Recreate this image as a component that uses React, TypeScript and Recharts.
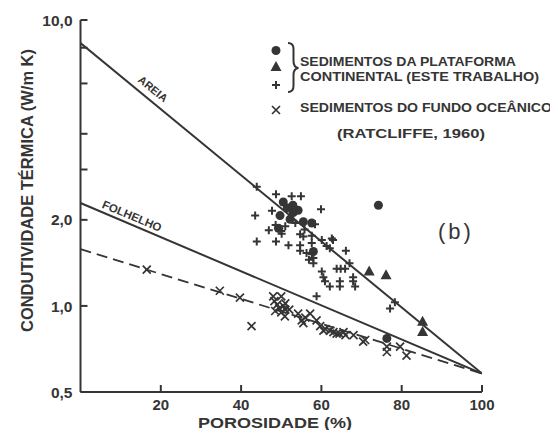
import { ComposedChart, Line, Scatter, XAxis, YAxis } from "recharts";

const INK = "#353535";
const FONT = "'Liberation Sans', Arial, sans-serif";

// eixo y (log) e eixo x
const Y_TICKS = [0.5, 1, 2, 3, 4, 5, 6, 7, 8, 9, 10];
const Y_LABELS: Record<string, string> = { "0.5": "0,5", "1": "1,0", "2": "2,0", "10": "10,0" };
const X_TICKS = [20, 40, 60, 80, 100];

// retas de ajuste (porosidade %, condutividade W/m K)
const areiaLine = [
  { x: 0, y: 8.3 },
  { x: 100, y: 0.58 },
];
const folhelhoLine = [
  { x: 0, y: 2.29 },
  { x: 100, y: 0.58 },
];
const oceanLine = [
  { x: 0, y: 1.58 },
  { x: 100, y: 0.58 },
];

// sedimentos da plataforma continental
const platePlus = [
  [43.9, 2.61], [48.7, 2.46], [52.6, 2.42], [54.9, 2.42], [59.9, 2.18], [43.5, 2.07],
  [47.7, 2.15], [58.4, 1.93], [48.6, 1.92], [46.9, 1.84], [50.1, 1.79], [54.7, 1.78],
  [57.6, 1.76], [43.9, 1.68], [48.7, 1.68], [51.8, 1.63], [54.7, 1.63], [57.6, 1.66],
  [54.7, 1.56], [57.6, 1.52], [56.9, 1.45], [61.3, 1.62], [62.1, 1.59], [62.9, 1.7],
  [60.1, 1.7], [62.6, 1.72], [66.1, 1.56], [55.5, 1.75], [56.3, 1.53], [58.0, 1.47],
  [58.0, 1.41], [63.8, 1.35], [64.8, 1.35], [65.9, 1.35], [67.0, 1.41], [60.1, 1.32],
  [60.5, 1.26], [60.9, 1.22], [62.1, 1.17], [64.6, 1.22], [64.6, 1.17], [67.9, 1.26],
  [67.9, 1.22], [68.4, 1.17], [58.8, 1.08], [78.3, 1.03], [77.1, 0.98], [49.5, 1.86],
  [51.0, 1.9], [50.0, 1.83], [53.5, 1.95], [55.8, 1.85],
];
const plateCircle = [
  [50.5, 2.31], [52.9, 2.25], [54.2, 2.16], [49.7, 2.07], [52.2, 2.01], [55.5, 1.97],
  [57.6, 1.95], [49.3, 1.87], [58.0, 1.55], [74.2, 2.25], [76.3, 0.77], [53.0, 2.12],
  [51.5, 2.2],
];
const plateTriangle = [
  [71.9, 1.32], [76.1, 1.28], [85.2, 0.88], [85.2, 0.81],
];

// sedimentos do fundo oceanico (Ratcliffe, 1960)
const oceanCross = [
  [16.5, 1.34], [34.7, 1.13], [39.7, 1.07], [42.6, 0.85], [48.0, 1.08], [50.0, 1.08],
  [48.3, 1.04], [49.0, 1.01], [49.5, 0.98], [50.5, 1.0], [51.0, 0.97], [48.5, 0.96],
  [50.0, 0.95], [52.0, 0.97], [51.0, 1.02], [50.9, 0.92], [54.2, 0.94], [55.1, 0.89],
  [55.5, 0.87], [56.0, 0.91], [57.2, 0.94], [58.8, 0.89], [59.7, 0.85], [60.5, 0.82],
  [62.1, 0.82], [63.8, 0.8], [65.5, 0.81], [61.0, 0.83], [63.0, 0.81], [64.5, 0.8],
  [66.0, 0.79], [68.0, 0.79], [70.4, 0.75], [70.9, 0.76], [76.3, 0.72], [76.3, 0.69],
  [79.6, 0.72], [81.2, 0.67],
];

const toPts = (arr: number[][]) => arr.map(([x, y]) => ({ x, y }));

const PlusMark = ({ cx, cy }: any) => (
  <path d={`M${cx - 4},${cy}H${cx + 4}M${cx},${cy - 4}V${cy + 4}`} stroke={INK} strokeWidth={2} />
);
const CrossMark = ({ cx, cy }: any) => (
  <path
    d={`M${cx - 4},${cy - 4}L${cx + 4},${cy + 4}M${cx + 4},${cy - 4}L${cx - 4},${cy + 4}`}
    stroke={INK}
    strokeWidth={1.7}
  />
);
const DotMark = ({ cx, cy }: any) => <circle cx={cx} cy={cy} r={4.5} fill={INK} />;
const TriMark = ({ cx, cy }: any) => (
  <path d={`M${cx},${cy - 6}L${cx + 5.5},${cy + 4}L${cx - 5.5},${cy + 4}Z`} fill={INK} />
);

function YTick({ x, y, payload }: any) {
  const label = Y_LABELS[String(payload.value)];
  const ax = x + 8;
  return (
    <g>
      <line x1={ax} x2={ax + 7} y1={y} y2={y} stroke={INK} strokeWidth={2} />
      {label ? (
        <text x={x} y={y} dy="0.36em" textAnchor="end" fontFamily={FONT} fontWeight="bold" fontSize={15.5} fill={INK}>
          {label}
        </text>
      ) : null}
    </g>
  );
}

function XTick({ x, y, payload }: any) {
  const ay = y - 7;
  return (
    <g>
      <line x1={x} x2={x} y1={ay} y2={ay - 7} stroke={INK} strokeWidth={2} />
      <text x={x} y={y} dy="0.71em" textAnchor="middle" fontFamily={FONT} fontWeight="bold" fontSize={15} fill={INK}>
        {payload.value}
      </text>
    </g>
  );
}

export default function App() {
  return (
    <div style={{ position: "relative", width: 542, height: 422 }}>
      <ComposedChart width={542} height={422} margin={{ top: 12, right: 68, bottom: 8, left: 12.5 }}>
        <XAxis
          type="number"
          dataKey="x"
          domain={[0, 100]}
          ticks={X_TICKS}
          allowDataOverflow
          height={30}
          tickSize={0}
          tickMargin={7}
          tickLine={false}
          axisLine={{ stroke: INK, strokeWidth: 2 }}
          tick={<XTick />}
        />
        <YAxis
          type="number"
          dataKey="y"
          scale="log"
          domain={[0.5, 10]}
          ticks={Y_TICKS}
          allowDataOverflow
          width={60}
          tickSize={0}
          tickMargin={8}
          tickLine={false}
          axisLine={{ stroke: INK, strokeWidth: 2 }}
          tick={<YTick />}
        />
        <Line data={areiaLine} dataKey="y" type="linear" stroke={INK} strokeWidth={2} dot={false} isAnimationActive={false} />
        <Line data={folhelhoLine} dataKey="y" type="linear" stroke={INK} strokeWidth={2} dot={false} isAnimationActive={false} />
        <Line data={oceanLine} dataKey="y" type="linear" stroke={INK} strokeWidth={1.8} strokeDasharray="11 6" dot={false} isAnimationActive={false} />
        <Scatter data={toPts(oceanCross)} shape={<CrossMark />} isAnimationActive={false} />
        <Scatter data={toPts(platePlus)} shape={<PlusMark />} isAnimationActive={false} />
        <Scatter data={toPts(plateCircle)} shape={<DotMark />} isAnimationActive={false} />
        <Scatter data={toPts(plateTriangle)} shape={<TriMark />} isAnimationActive={false} />
      </ComposedChart>

      <svg width={550} height={430} style={{ position: "absolute", left: 0, top: 0, pointerEvents: "none" }}>
        <g fontFamily={FONT} fill={INK}>
          {/* titulos dos eixos */}
          <text
            transform="translate(19,324) rotate(-90)"
            dy="0.36em"
            fontWeight="bold"
            fontSize={17}
            textLength={283}
            lengthAdjust="spacingAndGlyphs"
          >
            CONDUTIVIDADE TÉRMICA (W/m K)
          </text>
          <text x={190} y={420} fontWeight="bold" fontSize={15} textLength={154} lengthAdjust="spacingAndGlyphs">
            POROSIDADE (%)
          </text>

          {/* rotulos das retas */}
          <text transform="translate(145,81) rotate(39.4)" textAnchor="middle" dy="0.35em" fontWeight="bold" fontSize={11}>
            AREIA
          </text>
          <text transform="translate(124,208) rotate(22.9)" textAnchor="middle" dy="0.35em" fontWeight="bold" fontSize={11.5}>
            FOLHELHO
          </text>

          <text x={448} y={231} textAnchor="middle" fontSize={22} letterSpacing={3}>
            (b)
          </text>

          {/* legenda */}
          <circle cx={268} cy={42.5} r={4.5} />
          <path d="M268,53L273.5,63L262.5,63Z" />
          <path d="M264,77H272M268,73V81" stroke={INK} strokeWidth={2} fill="none" />
          <path d="M264,98L272,106M272,98L264,106" stroke={INK} strokeWidth={1.7} fill="none" />
          <path
            d="M280,35Q285.5,35 285.5,41V53Q285.5,59.5 290.5,60Q285.5,60.5 285.5,67V78Q285.5,84 280,84"
            stroke={INK}
            strokeWidth={2}
            fill="none"
          />
          <text x={292} y={57.5} fontSize={13} fontWeight="bold" textLength={216} lengthAdjust="spacingAndGlyphs">
            SEDIMENTOS DA PLATAFORMA
          </text>
          <text x={292} y={72.5} fontSize={13} fontWeight="bold" textLength={239} lengthAdjust="spacingAndGlyphs">
            CONTINENTAL (ESTE TRABALHO)
          </text>
          <text x={292} y={104} fontSize={13} fontWeight="bold" textLength={252} lengthAdjust="spacingAndGlyphs">
            SEDIMENTOS DO FUNDO OCEÂNICO
          </text>
          <text x={329} y={130} fontSize={13} fontWeight="bold" textLength={148} lengthAdjust="spacingAndGlyphs">
            (RATCLIFFE, 1960)
          </text>
        </g>
      </svg>
    </div>
  );
}
